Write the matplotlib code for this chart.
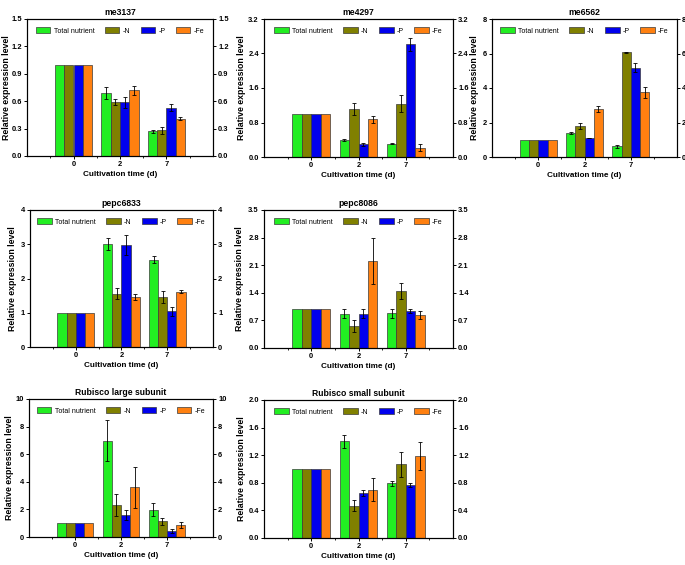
import matplotlib
matplotlib.use("Agg")
import matplotlib.pyplot as plt
import numpy as np
from matplotlib.ticker import FixedLocator

plt.rcParams['font.family'] = ['Liberation Sans', 'DejaVu Sans']

days = ["0", "2", "7"]
series = ["Total nutrient", "-N", "-P", "-Fe"]
colors = ["#22EE22", "#808000", "#0000EE", "#FF8010"]

titles = ["me3137", "me4297", "me6562", "pepc6833", "pepc8086",
          "Rubisco large subunit", "Rubisco small subunit"]

# values[gene] = list over series of [day0, day2, day7]
me3137_val = [[1, 0.69, 0.27], [1, 0.59, 0.28], [1, 0.59, 0.53], [1, 0.72, 0.41]]
me3137_err = [[0, 0.07, 0.02], [0, 0.03, 0.04], [0, 0.06, 0.04], [0, 0.05, 0.02]]
me4297_val = [[1, 0.39, 0.31], [1, 1.12, 1.24], [1, 0.29, 2.61], [1, 0.87, 0.21]]
me4297_err = [[0, 0.02, 0.01], [0, 0.14, 0.20], [0, 0.03, 0.16], [0, 0.07, 0.08]]
me6562_val = [[1, 1.40, 0.62], [1, 1.80, 6.07], [1, 1.10, 5.17], [1, 2.77, 3.74]]
me6562_err = [[0, 0.04, 0.07], [0, 0.16, 0.02], [0, 0.02, 0.27], [0, 0.18, 0.34]]
pepc6833_val = [[1, 3.01, 2.55], [1, 1.55, 1.46], [1, 2.98, 1.04], [1, 1.46, 1.62]]
pepc6833_err = [[0, 0.18, 0.10], [0, 0.16, 0.17], [0, 0.30, 0.13], [0, 0.08, 0.05]]
pepc8086_val = [[1, 0.87, 0.88], [1, 0.56, 1.45], [1, 0.87, 0.93], [1, 2.20, 0.83]]
pepc8086_err = [[0, 0.12, 0.12], [0, 0.16, 0.21], [0, 0.12, 0.05], [0, 0.58, 0.10]]
rbl_val = [[1, 6.99, 1.99], [1, 2.31, 1.14], [1, 1.58, 0.44], [1, 3.59, 0.85]]
rbl_err = [[0, 1.46, 0.50], [0, 0.80, 0.27], [0, 0.36, 0.15], [0, 1.50, 0.22]]
rbs_val = [[1, 1.40, 0.79], [1, 0.47, 1.07], [1, 0.65, 0.77], [1, 0.70, 1.19]]
rbs_err = [[0, 0.10, 0.03], [0, 0.08, 0.18], [0, 0.04, 0.03], [0, 0.17, 0.20]]

values = [me3137_val, me4297_val, me6562_val, pepc6833_val, pepc8086_val, rbl_val, rbs_val]
errors = [me3137_err, me4297_err, me6562_err, pepc6833_err, pepc8086_err, rbl_err, rbs_err]
ymax = [1.5, 3.2, 8, 4, 3.5, 10, 2.0]
ystep = [0.3, 0.8, 2, 1, 0.7, 2, 0.4]
yfmt = ["%.1f", "%.1f", "%d", "%d", "%.1f", "%d", "%.1f"]

W, H = 685, 565
# pixel boxes: left, right, top, bottom
boxes = [(27, 213, 19, 156), (264, 453, 19, 157), (492, 677, 19, 157),
         (30, 213, 210, 347), (264, 453, 210, 348),
         (29, 213, 399, 537), (264, 453, 400, 538)]
ylab_off = [16, 18, 13, 13, 20, 15, 18]

fig = plt.figure(figsize=(6.85, 5.65), dpi=100)
bw = 0.2
xs = np.arange(1, 4)
for i in range(7):
    l, r, t, b = boxes[i]
    ax = fig.add_axes([l / W, 1 - b / H, (r - l) / W, (b - t) / H])
    for k in range(4):
        pos = xs + (k - 1.5) * bw
        ax.bar(pos, values[i][k], width=bw, color=colors[k], edgecolor="#3a3a3a",
               linewidth=0.5, label=series[k], zorder=2)
        errs = np.array(errors[i][k], dtype=float)
        vals = np.array(values[i][k], dtype=float)
        m = errs > 0
        ax.errorbar(pos[m], vals[m], yerr=errs[m], fmt="none", ecolor="black",
                    elinewidth=0.6, capsize=1.5, capthick=0.6, zorder=3)
    ax.set_xlim(0, 4)
    ax.set_ylim(0, ymax[i])
    ax.set_xticks(xs)
    ax.set_xticklabels(days)
    ax.xaxis.set_minor_locator(FixedLocator([0.5, 1.5, 2.5, 3.5]))
    ticks = np.arange(0, ymax[i] + 1e-9, ystep[i])
    ax.set_yticks(ticks)
    ax.set_yticklabels([yfmt[i] % v for v in ticks])
    ax.tick_params(axis="both", which="major", labelsize=5.4, length=2.5, width=0.7,
                   direction="out", pad=1.2)
    ax.tick_params(axis="x", which="minor", length=1.5, width=0.6, direction="out")
    for lab in ax.get_xticklabels() + ax.get_yticklabels():
        lab.set_fontweight("bold")
    for s in ax.spines.values():
        s.set_linewidth(0.8)
    ax2 = ax.twinx()
    ax2.set_ylim(0, ymax[i])
    ax2.set_yticks(ticks)
    ax2.set_yticklabels([yfmt[i] % v for v in ticks])
    ax2.tick_params(axis="y", labelsize=5.4, length=2.5, width=0.7, direction="out", pad=1.2)
    for lab in ax2.get_yticklabels():
        lab.set_fontweight("bold")
    for s in ax2.spines.values():
        s.set_linewidth(0.8)
    ax.set_title(titles[i], fontsize=6.2, fontweight="bold", pad=3)
    ax.set_xlabel("Cultivation time (d)", fontsize=5.9, fontweight="bold", labelpad=2)
    ax.set_ylabel("Relative expression level", fontsize=6.3, fontweight="bold")
    ax.yaxis.set_label_coords(-ylab_off[i] / (r - l), 0.5)
    ax.legend(loc="upper center", ncol=4, frameon=False, fontsize=5,
              handlelength=2.1, handleheight=0.9, handletextpad=0.45,
              columnspacing=1.5, borderaxespad=0.8)

fig.savefig("out.png", dpi=100)
